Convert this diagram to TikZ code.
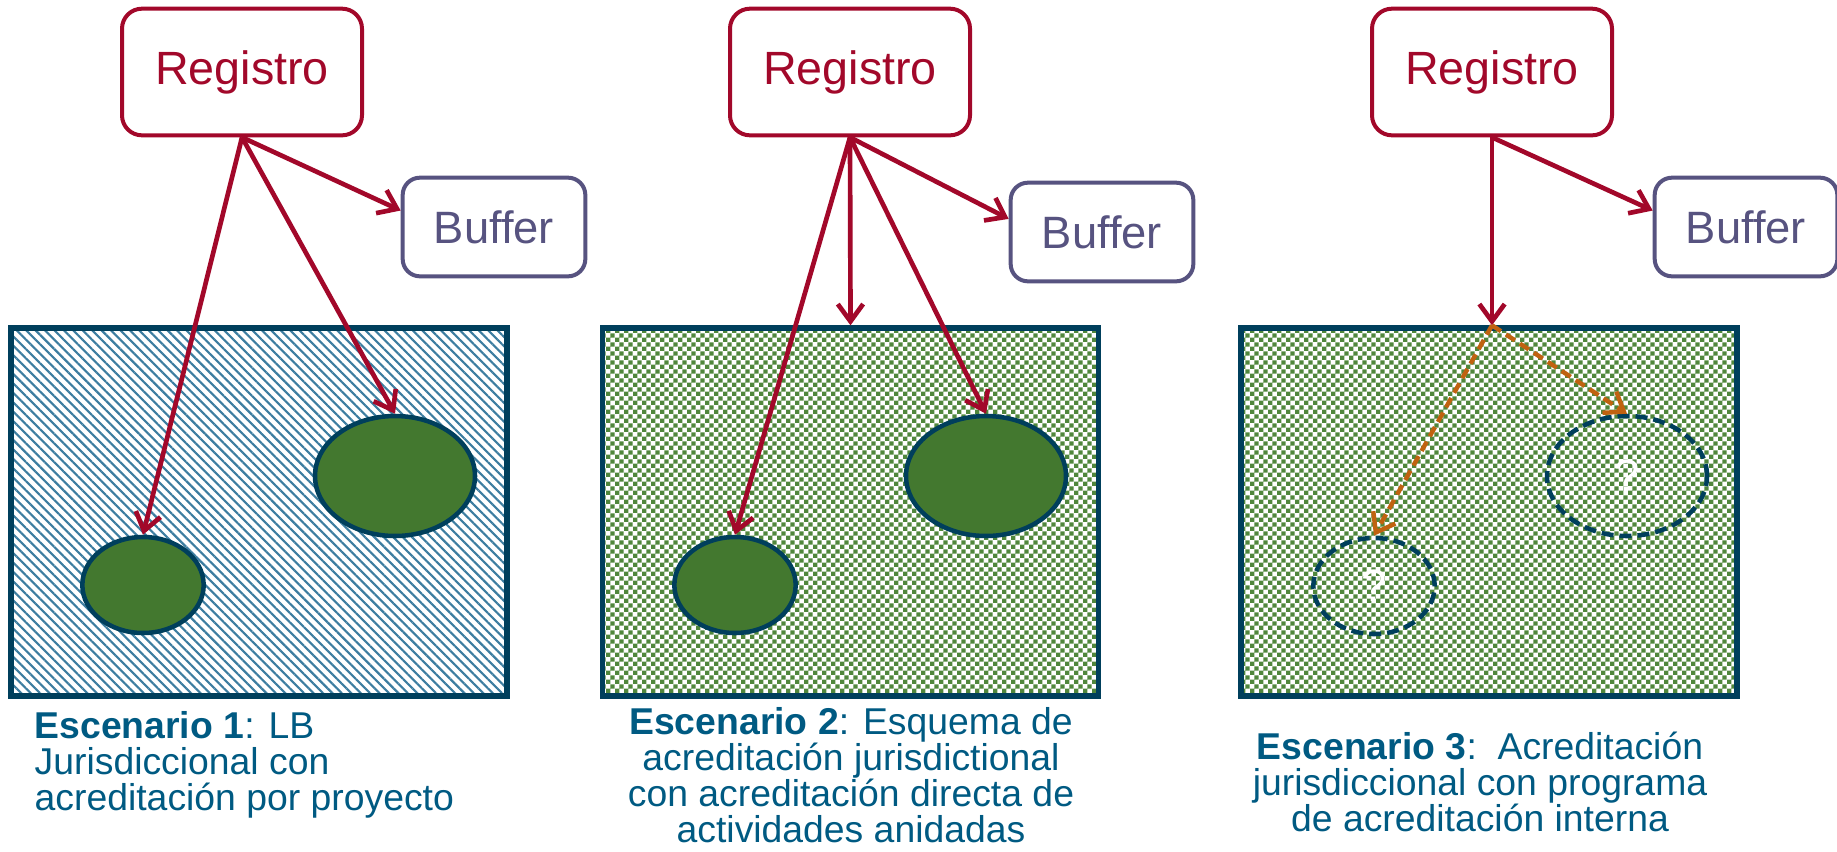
\documentclass[tikz,border=0pt]{standalone}
\usepackage{fontspec}
\setmainfont{Liberation Sans}
\usepackage{xcolor}
\usepackage{tikz}
\usetikzlibrary{patterns,patterns.meta,shapes.geometric,arrows.meta}

\definecolor{regred}{RGB}{162,8,42}
\definecolor{bufpurple}{RGB}{87,83,128}
\definecolor{darkteal}{RGB}{0,63,92}
\definecolor{captblue}{RGB}{0,90,130}
\definecolor{leafgreen}{RGB}{67,120,47}
\definecolor{checkgreen}{RGB}{80,135,60}
\definecolor{stripeblue}{RGB}{60,125,160}
\definecolor{dashorange}{RGB}{192,98,16}

\pgfdeclarepatternformonly{greenchecks}{\pgfpointorigin}{\pgfqpoint{7pt}{7pt}}{\pgfqpoint{7pt}{7pt}}{%
  \pgfpathrectangle{\pgfpointorigin}{\pgfqpoint{3.5pt}{3.5pt}}%
  \pgfpathrectangle{\pgfqpoint{3.5pt}{3.5pt}}{\pgfqpoint{3.5pt}{3.5pt}}%
  \pgfusepath{fill}}

\begin{document}
\begin{tikzpicture}[x=0.75pt,y=0.75pt,yscale=-1,xscale=1,
  regbox/.style={draw=regred, text=regred, line width=3pt, rounded corners=15pt, minimum width=180pt, minimum height=95pt, font=\fontsize{35}{40}\selectfont},
  bufbox/.style={draw=bufpurple, text=bufpurple, line width=3pt, rounded corners=13pt, minimum width=137pt, minimum height=74pt, font=\fontsize{34}{40}\selectfont},
  field/.style={draw=darkteal, line width=4pt, minimum width=372pt, minimum height=276pt},
  striped/.style={field, pattern={Lines[angle=-45,distance=5pt,line width=1.6pt]}, pattern color=stripeblue},
  checked/.style={field, pattern=greenchecks, pattern color=checkgreen},
  smallpatch/.style={ellipse, draw=darkteal, line width=3.4pt, inner sep=0pt, minimum width=91pt, minimum height=72pt},
  bigpatch/.style={smallpatch, minimum width=120pt, minimum height=90pt},
  solidpatch/.style={fill=leafgreen},
  unknownpatch/.style={dash pattern=on 9pt off 4.5pt, text=white, font=\fontsize{34}{34}\selectfont},
  link/.style={draw=regred, line width=3.5pt, -{Straight Barb[length=13pt,width=19pt]}},
  guess/.style={draw=dashorange, line width=3.3pt, dash pattern=on 8pt off 4.5pt, -{Straight Barb[length=13pt,width=19pt]}},
  caption/.style={text=captblue, font=\fontsize{28}{27}\selectfont}]
\useasboundingbox (0,0) rectangle (1837,851);

\node[regbox] (reg1) at (242,72) {Registro};
\node[bufbox] (buf1) at (494,227) {Buffer};
\node[striped] (fld1) at (259,512) {};
\node[smallpatch, solidpatch] (sm1) at (143,585) {};
\node[bigpatch, solidpatch] (bg1) at (395,476) {};
\draw[link] (reg1.south) -- (sm1.north);
\draw[link] (reg1.south) -- (bg1.north);
\draw[link] (reg1.south) -- (buf1.170);
\node[caption, align=left, anchor=west] (cap1) at (30,765) {\textbf{Escenario 1}: LB\\Jurisdiccional con\\acreditación por proyecto};

\node[regbox] (reg2) at (850,72) {Registro};
\node[bufbox] (buf2) at (1102,232) {Buffer};
\node[checked] (fld2) at (850.5,512) {};
\node[smallpatch, solidpatch] (sm2) at (735,585) {};
\node[bigpatch, solidpatch] (bg2) at (986,476) {};
\draw[link] (reg2.south) -- (sm2.north);
\draw[link] (reg2.south) -- (fld2.north);
\draw[link] (reg2.south) -- (bg2.north);
\draw[link] (reg2.south) -- (buf2.172);
\node[caption, align=center] (cap2) at (851,775) {\textbf{Escenario 2}: Esquema de\\acreditación jurisdictional\\con acreditación directa de\\actividades anidadas};

\node[regbox] (reg3) at (1492,72) {Registro};
\node[bufbox] (buf3) at (1746,227) {Buffer};
\node[checked] (fld3) at (1489,512) {};
\coordinate (drop3) at (reg3.south |- fld3.north);
\node[smallpatch, unknownpatch] (sm3) at (1374,586) {?};
\node[bigpatch, unknownpatch] (bg3) at (1627,476) {?};
\draw[link] (reg3.south) -- (drop3);
\draw[link] (reg3.south) -- (buf3.170);
\draw[guess] (drop3) -- (sm3.north);
\draw[guess] (drop3) -- (bg3.north);
\node[caption, align=center] (cap3) at (1480,782) {\textbf{Escenario 3}:\ \ Acreditación\\jurisdiccional con programa\\de acreditación interna};
\end{tikzpicture}
\end{document}
